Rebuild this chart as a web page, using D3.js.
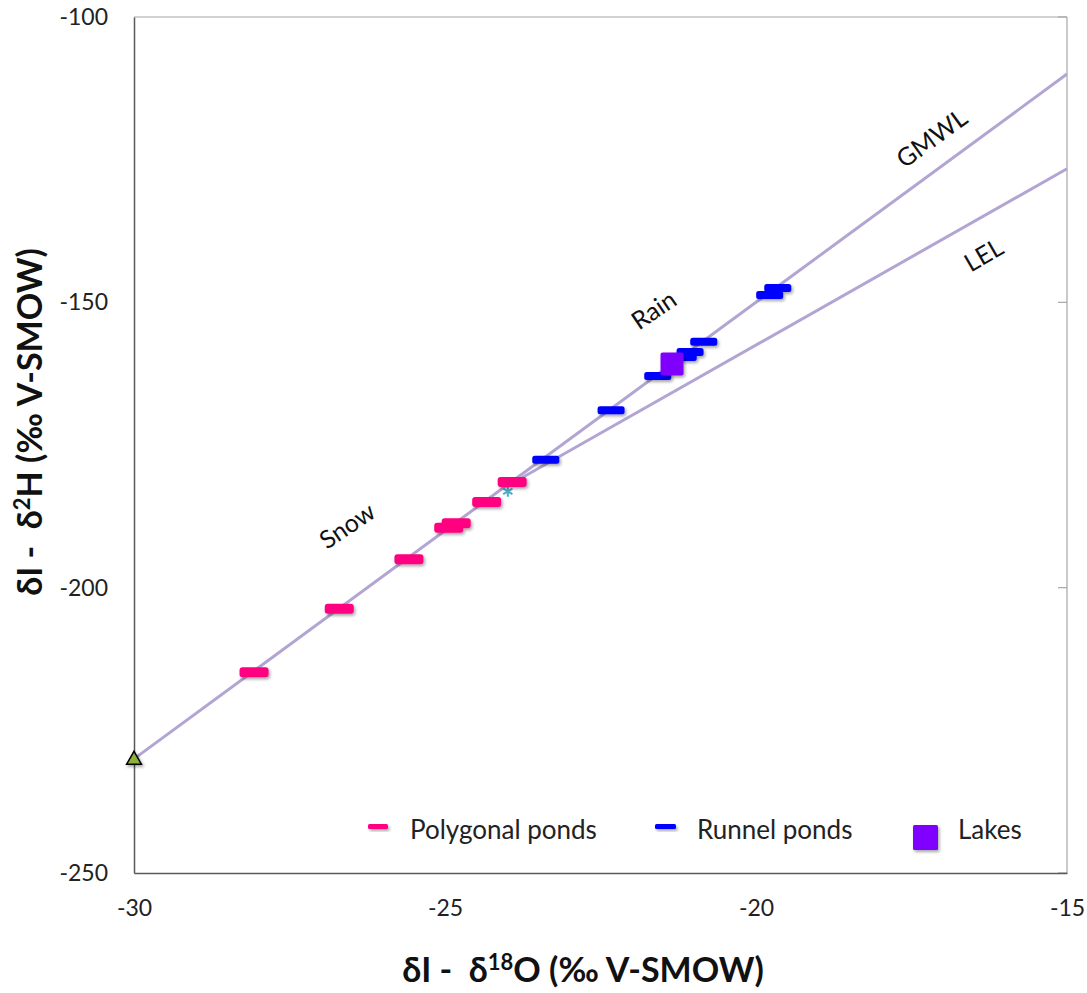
<!DOCTYPE html>
<html><head><meta charset="utf-8">
<script src="https://cdn.jsdelivr.net/npm/d3@7"></script>
<style>
html,body{margin:0;padding:0;background:#fff;}
svg{display:block;font-family:Lato, "Open Sans", sans-serif;}
text{white-space:pre;}
</style></head>
<body>
<svg id="chart" width="1087" height="993"></svg>
<script>
// ---- data ----
const xTicks = [-30, -25, -20, -15];
const yTicks = [-100, -150, -200, -250];
const polygonalX = [-28.07, -26.70, -25.58, -24.94, -24.82, -24.33, -23.92];
const polygonalY = [-214.8, -203.7, -195.0, -189.5, -188.7, -185.0, -181.5];
const runnelX = [-23.38, -22.33, -21.58, -21.17, -21.06, -20.84, -19.78, -19.65];
const runnelY = [-177.6, -168.9, -162.9, -159.6, -158.7, -156.9, -148.7, -147.5];
const lakesX = [-21.35];
const lakesY = [-160.8];
const gmwlX = [-30, -15];
const gmwlY = [-230, -110];
const lelX = [-24.0, -15];
const lelY = [-182.2, -126.6];
const sourceX = [-30];   // triangle
const sourceY = [-230];
const evapX = [-23.99];  // small cyan marker
const evapY = [-182.6];
const legendNames = ["Polygonal ponds", "Runnel ponds", "Lakes"];

// ---- layout ----
const L = 134, R = 1067, T = 17, B = 873;
const x = d3.scaleLinear().domain([-30, -15]).range([L, R]);
const y = d3.scaleLinear().domain([-250, -100]).range([B, T]);
const svg = d3.select("#chart");

const defs = svg.append("defs");
const f = defs.append("filter").attr("id","sh").attr("x","-50%").attr("y","-50%").attr("width","200%").attr("height","200%");
f.append("feDropShadow").attr("dx",1.5).attr("dy",2).attr("stdDeviation",1.6).attr("flood-color","#000").attr("flood-opacity",0.35);

// frame (top/right light)
svg.append("line").attr("x1",L).attr("x2",R).attr("y1",T).attr("y2",T).attr("stroke","#a6a6a6").attr("stroke-width",1.2);
svg.append("line").attr("x1",R).attr("x2",R).attr("y1",T).attr("y2",B).attr("stroke","#a6a6a6").attr("stroke-width",1.2);
// right inner ticks
svg.append("g").selectAll("line").data(yTicks).join("line")
  .attr("x1",R-9).attr("x2",R).attr("y1",d=>y(d)).attr("y2",d=>y(d))
  .attr("stroke","#a6a6a6").attr("stroke-width",1.2);

// axes
const gx = svg.append("g").attr("transform",`translate(0,${B})`)
  .call(d3.axisBottom(x).tickValues(xTicks).tickSize(0).tickPadding(27).tickFormat(d=>String(d)));
const gy = svg.append("g").attr("transform",`translate(${L},0)`)
  .call(d3.axisLeft(y).tickValues(yTicks).tickSize(0).tickPadding(26).tickFormat(d=>String(d)));
[gx, gy].forEach(g=>{
  g.select(".domain").attr("stroke","#595959").attr("stroke-width",1.5);
  g.selectAll("text").attr("font-size",23).attr("fill","#222").attr("font-family","Lato, sans-serif");
});

// lines
const line = d3.line().x(d=>x(d[0])).y(d=>y(d[1]));
svg.append("path").datum(gmwlX.map((v,i)=>[v,gmwlY[i]])).attr("d",line)
  .attr("fill","none").attr("stroke","#b3a5d3").attr("stroke-width",3);
svg.append("path").datum(lelX.map((v,i)=>[v,lelY[i]])).attr("d",line)
  .attr("fill","none").attr("stroke","#b3a5d3").attr("stroke-width",3);

// evap marker
svg.append("g").selectAll("path").data(evapX.map((v,i)=>[v,evapY[i]])).join("path")
  .attr("transform",d=>`translate(${x(d[0])},${y(d[1])+3})`)
  .attr("d",d3.symbol(d3.symbolAsterisk,80)).attr("stroke","#4bacc6").attr("stroke-width",2).attr("fill","none");

// polygonal
svg.append("g").attr("filter","url(#sh)").selectAll("rect").data(polygonalX.map((v,i)=>[v,polygonalY[i]])).join("rect")
  .attr("x",d=>x(d[0])-14.5).attr("y",d=>y(d[1])-5).attr("width",29).attr("height",10).attr("rx",3)
  .attr("fill","#ff0080");
// runnel
svg.append("g").attr("filter","url(#sh)").selectAll("rect").data(runnelX.map((v,i)=>[v,runnelY[i]])).join("rect")
  .attr("x",d=>x(d[0])-13.5).attr("y",d=>y(d[1])-4).attr("width",27).attr("height",8).attr("rx",2.5)
  .attr("fill","#0000ff");
// lakes
svg.append("g").attr("filter","url(#sh)").selectAll("rect").data(lakesX.map((v,i)=>[v,lakesY[i]])).join("rect")
  .attr("x",d=>x(d[0])-11.5).attr("y",d=>y(d[1])-11.5).attr("width",23).attr("height",23).attr("rx",2)
  .attr("fill","#8000ff");
// triangle
svg.append("g").attr("filter","url(#sh)").selectAll("path").data(sourceX.map((v,i)=>[v,sourceY[i]])).join("path")
  .attr("transform",d=>`translate(${x(d[0])},${y(d[1])+1})`)
  .attr("d",d3.symbol(d3.symbolTriangle,95)).attr("fill","#8cb03c").attr("stroke","#000").attr("stroke-width",1.5);

// annotations
const ann = [
  {t:"GMWL", x:-17.15, y:-121.6, a:-36},
  {t:"LEL",  x:-16.32, y:-142.1, a:-30},
  {t:"Rain", x:-21.62, y:-151.7, a:-34},
  {t:"Snow", x:-26.55, y:-189.5, a:-34}
];
svg.append("g").selectAll("text").data(ann).join("text")
  .attr("transform",d=>`translate(${x(d.x)},${y(d.y)}) rotate(${d.a})`)
  .attr("text-anchor","middle").attr("dominant-baseline","middle")
  .attr("font-size",25).attr("fill","#111").text(d=>d.t);

// legend
const lg = svg.append("g").attr("font-size",26).attr("fill","#222");
const lgX = [368, 655, 913];
const lgTX = [410, 697, 958];
lg.append("rect").attr("x",lgX[0]).attr("y",824).attr("width",20).attr("height",5).attr("rx",1.5).attr("fill","#ff0080").attr("filter","url(#sh)");
lg.append("rect").attr("x",lgX[1]).attr("y",824).attr("width",21).attr("height",5).attr("rx",1.5).attr("fill","#0000ff").attr("filter","url(#sh)");
lg.append("rect").attr("x",lgX[2]).attr("y",825).attr("width",25).attr("height",25).attr("rx",1.5).attr("fill","#8000ff").attr("filter","url(#sh)");
lg.selectAll("text").data(legendNames).join("text")
  .attr("x",(d,i)=>lgTX[i]).attr("y",839).text(d=>d);

// axis titles
svg.append("text").attr("x",583).attr("y",982).attr("text-anchor","middle")
  .attr("font-size",34).attr("font-weight","bold").attr("fill","#111")
  .html('δI -  δ<tspan dy="-12" font-size="22">18</tspan><tspan dy="12">O (‰ V-SMOW)</tspan>');
svg.append("text").attr("transform","translate(42,422) rotate(-90)").attr("text-anchor","middle")
  .attr("font-size",34).attr("font-weight","bold").attr("fill","#111")
  .html('δI -  δ<tspan dy="-12" font-size="22">2</tspan><tspan dy="12">H (‰ V-SMOW)</tspan>');
</script>
</body></html>
